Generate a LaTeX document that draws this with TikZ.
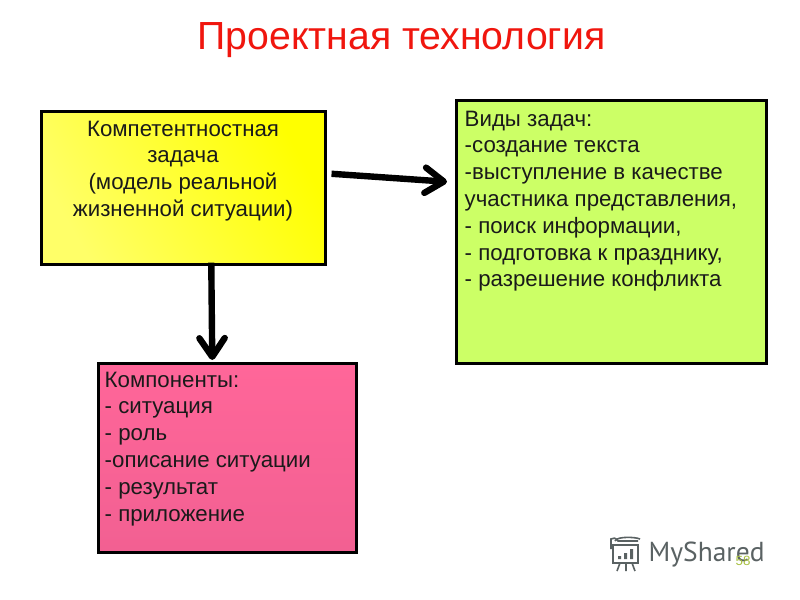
\documentclass[tikz,border=0pt]{standalone}
\usepackage{fontspec}
\setmainfont{Liberation Sans}
\newfontfamily\logofont{PT Sans}
\usetikzlibrary{arrows.meta,calc}
\definecolor{titlered}{HTML}{F0160E}
\definecolor{inktext}{HTML}{1A1A1A}
\definecolor{logogrey}{HTML}{5A6263}
\definecolor{pagenum}{HTML}{A8C040}
\definecolor{taskpale}{HTML}{FFFF68}
\definecolor{taskfull}{HTML}{FFFF00}
\definecolor{kindsgreen}{HTML}{CCFF66}
\definecolor{partstop}{HTML}{FF6699}
\definecolor{partsbottom}{HTML}{F26092}
\tikzset{
  box/.style={draw=black,line width=1.9pt,inner sep=0pt,anchor=north west},
  boxtext/.style={font=\fontsize{16.7}{20.1}\selectfont,text=inktext},
  arrowline/.style={draw=black,line width=4.8pt,-{Straight Barb[round,length=14pt,width=19pt,line width=4.8pt]}},
  logoline/.style={draw=logogrey,line width=1.2pt}
}
\begin{document}
\begin{tikzpicture}[x=0.75pt,y=-0.75pt]
\useasboundingbox (0,0) rectangle (800,600);
\fill[white] (0,0) rectangle (800,600);
\node[font=\fontsize{29.4}{32}\selectfont,text=titlered] (title) at (401.5,40) {Проектная технология};
% boxes
\node[box,minimum width=284*0.75pt,minimum height=153*0.75pt,left color=taskpale,right color=taskfull,shading angle=120] (task) at (40,110) {};
\node[box,minimum width=310*0.75pt,minimum height=263*0.75pt,fill=kindsgreen] (kinds) at (455,99) {};
\node[box,minimum width=258*0.75pt,minimum height=189*0.75pt,top color=partstop,bottom color=partsbottom] (parts) at (97,362) {};
% texts
\node[boxtext,align=center,anchor=north] (tasktext) at (183,116) {Компетентностная\\задача\\(модель реальной\\жизненной ситуации)};
\node[boxtext,align=left,anchor=north west] (kindstext) at (460,106) {Виды задач:\\-создание текста\\-выступление в качестве\\участника представления,\\- поиск информации,\\- подготовка к празднику,\\- разрешение конфликта};
\node[boxtext,align=left,anchor=north west] (partstext) at (100,367) {Компоненты:\\- ситуация\\- роль\\-описание ситуации\\- результат\\- приложение};
% connectors
\draw[arrowline] ($(task.east)+(5,-14)$) -- ($(kinds.west)+(-8,-50)$);
\draw[arrowline] ($(task.south)+(28,-3)$) -- ($(parts.north)+(-15,-2)$);
% logo
\node[font=\logofont\fontsize{20.6}{24}\selectfont,text=logogrey,anchor=west] (logo) at (644,555) {MyShared};
\draw[logoline] (611,549) -- (611,539) .. controls (613,537) and (616,538) .. (618,541) -- (638,541);
\draw[logoline] (615,541) .. controls (617,536) and (636,537) .. (640,539);
\draw[logoline] (613,545) rectangle (638,563);
\draw[logoline] (620,563) -- (617,571) (626,563) -- (626,571) (632,563) -- (635,571);
\fill[logogrey] (618,556) rectangle (621,559) (624,553) rectangle (627,559) (630,549) rectangle (633,559);
\node[font=\fontsize{10}{12}\selectfont,text=pagenum] (pageno) at (743,561) {58};
\end{tikzpicture}
\end{document}
